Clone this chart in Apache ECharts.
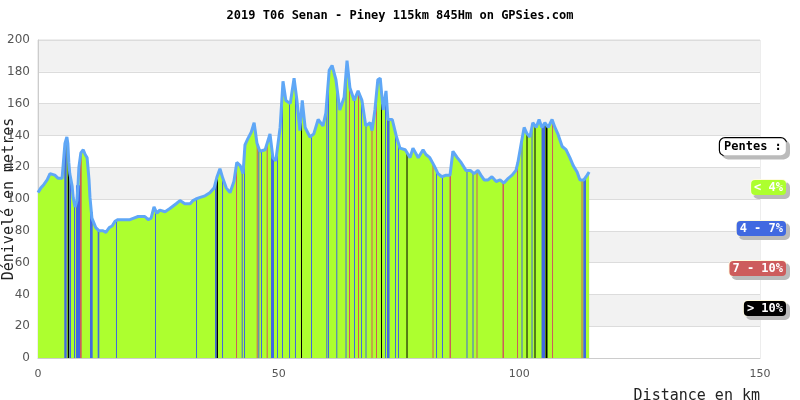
<!DOCTYPE html>
<html><head><meta charset="utf-8">
<script src="https://cdn.jsdelivr.net/npm/echarts@6/dist/echarts.min.js"></script>
<style>html,body{margin:0;padding:0;background:#fff}#c{width:800px;height:400px}</style>
</head><body><div id="c"></div>
<script>
const titleText = '2019 T06 Senan - Piney 115km 845Hm on GPSies.com';
const yAxisTitle = 'Dénivelé en metres';
const xAxisTitle = 'Distance en km';
const legendTitle = 'Pentes :';

const distanceKm = [0.0,0.6,1.2,1.9,2.5,2.9,3.5,4.2,4.6,5.0,5.4,5.6,6.0,6.2,6.4,6.6,7.1,7.3,7.7,8.1,8.3,8.5,8.9,9.4,9.8,10.2,10.6,10.8,11.2,11.6,12.0,12.7,13.5,14.1,14.8,15.4,16.0,16.6,17.5,18.3,19.1,19.9,20.8,21.6,22.2,22.9,23.5,24.1,24.7,25.3,26.4,27.4,28.7,29.5,30.5,31.6,32.2,32.8,33.7,34.7,35.7,36.6,37.2,37.8,38.4,39.1,39.9,40.7,41.3,42.0,42.6,43.0,43.6,44.3,44.9,45.5,46.1,47.2,48.2,48.8,49.4,50.3,50.9,51.5,52.4,53.2,53.8,54.4,54.9,55.5,56.5,57.3,58.2,59.2,59.8,60.5,61.1,61.9,62.7,63.6,64.2,64.8,65.7,66.5,67.3,68.1,69.0,69.4,70.0,70.6,71.1,71.7,72.3,72.7,73.6,74.4,75.2,76.3,77.3,77.9,79.0,80.0,80.6,81.4,82.3,83.1,83.9,84.8,85.6,86.2,87.1,87.9,88.9,89.8,90.6,91.4,92.0,92.7,93.5,94.3,95.2,96.0,96.8,97.7,98.5,99.3,99.7,100.4,101.0,101.6,102.2,102.8,103.5,104.1,104.7,105.3,106.0,106.8,107.4,108.0,108.9,109.7,110.5,111.2,112.0,112.6,113.4,114.1,114.5];
const elevation = [104,107,109,112,116,117,115,113,114,113,112,135,139,135,123,116,108,101,95,99,108,120,129,131,128,126,112,101,88,87,82,80,80,79,82,83,86,87,87,87,87,88,89,89,89,87,88,95,91,93,92,94,97,99,97,97,99,100,101,102,104,107,114,119,113,107,104,111,123,121,116,134,138,142,148,135,130,131,141,126,124,145,174,162,160,176,162,143,162,145,139,141,150,146,154,181,184,175,156,164,187,170,162,168,162,146,148,143,156,175,176,156,168,150,150,140,132,131,126,132,126,131,128,126,121,116,114,115,115,130,126,123,118,118,116,118,115,112,112,114,111,112,110,113,115,118,123,135,145,141,139,148,145,150,145,148,145,150,145,141,133,131,126,121,117,112,112,115,117];

// steep segments: start km, end km, slope class (1: 4-7%, 2: 7-10%, 3: >10%)
const stripeStart = [5.46,6.17,6.50,7.48,7.89,8.73,10.80,12.40,16.20,24.31,32.83,36.77,37.13,38.23,41.14,42.32,42.80,45.44,45.77,46.33,47.51,48.41,49.65,50.69,52.15,53.39,54.64,56.72,59.90,60.25,61.97,63.89,64.61,65.65,66.48,67.11,68.04,69.29,70.22,71.26,72.09,72.51,74.17,74.79,76.56,81.96,82.69,83.93,85.49,89.02,90.27,91.10,96.50,99.52,100.45,101.49,102.53,103.15,104.61,105.44,106.79,112.92,113.29];
const stripeEnd   = [5.96,6.44,6.86,7.69,8.73,9.08,11.36,12.74,16.41,24.52,33.03,37.13,37.40,38.44,41.34,42.53,43.01,45.64,45.91,46.54,47.68,49.03,49.86,50.90,52.36,53.60,54.85,56.93,60.04,60.46,62.18,64.09,64.82,65.86,66.69,67.31,68.25,69.50,70.43,71.47,72.30,73.03,74.38,75.00,76.77,82.17,82.90,84.14,85.80,89.23,90.48,91.31,96.81,99.72,100.66,101.70,102.74,103.36,105.33,105.85,107.00,113.12,113.85];
const stripeClass = [1,3,1,1,1,2,1,1,1,1,1,1,3,1,2,1,1,2,1,1,2,1,1,1,1,1,3,1,1,1,1,1,2,1,2,1,1,2,2,3,1,1,1,1,3,2,1,1,2,1,1,2,2,2,1,3,1,3,1,3,2,2,1];

const slopeLabels = ['< 4%', '4 - 7%', '7 - 10%', '> 10%'];
const slopeColors = ['#adff2f', '#4169e1', '#cd5c5c', '#000000'];
const lineColor = '#5fa7f6';

const profile = distanceKm.map((d, i) => [d, elevation[i]]);
function elevAt(km) {
  for (let i = 1; i < distanceKm.length; i++) {
    if (km <= distanceKm[i]) {
      const t = (km - distanceKm[i-1]) / (distanceKm[i] - distanceKm[i-1]);
      return elevation[i-1] + t * (elevation[i] - elevation[i-1]);
    }
  }
  return elevation[elevation.length - 1];
}
const stripes = stripeStart.map((s, i) => [s, stripeEnd[i], elevAt((s + stripeEnd[i]) / 2), stripeClass[i]]);

const chart = echarts.init(document.getElementById('c'), null, {renderer: 'canvas'});
const mono = "'DejaVu Sans Mono', monospace";

const legendY = [146, 187, 228, 268, 308];
const legendItems = [{
  type: 'text', right: 13, top: legendY[0] - 9, z: 100,
  style: {text: legendTitle, font: 'bold 12px ' + mono, fill: '#000', backgroundColor: '#fff',
    borderColor: '#000', borderWidth: 1.2, borderRadius: 5, padding: [3, 4, 2, 4],
    shadowColor: '#bbb', shadowOffsetX: 3, shadowOffsetY: 3, shadowBlur: 0}
}];
slopeLabels.forEach((lab, i) => {
  legendItems.push({
    type: 'text', right: 13, top: legendY[i + 1] - 8, z: 100,
    style: {text: lab, font: 'bold 12px ' + mono, fill: '#fff', backgroundColor: slopeColors[i],
      borderColor: '#fffbe0', borderWidth: 1, borderRadius: 4, padding: [2, 3, 1, 3],
      shadowColor: '#bbb', shadowOffsetX: 3, shadowOffsetY: 3, shadowBlur: 0}
  });
});

chart.setOption({
  animation: false,
  backgroundColor: '#fff',
  title: {text: titleText, left: 'center', top: 5,
    textStyle: {fontFamily: mono, fontWeight: 'bold', fontSize: 12, color: '#000'}},
  grid: {left: 38, right: 40, top: 40, bottom: 42, containLabel: false, outerBoundsMode: 'none',
    show: true, borderColor: '#dcdcdc', borderWidth: 1, backgroundColor: 'transparent'},
  xAxis: {
    type: 'value', min: 0, max: 150, interval: 50,
    name: xAxisTitle, nameLocation: 'end', nameGap: 0, nameMoveOverlap: false,
    nameTextStyle: {fontFamily: mono, fontSize: 15, color: '#222', align: 'right', verticalAlign: 'top', padding: [31, 0, 0, 0]},
    axisLine: {show: true, lineStyle: {color: '#ccc'}},
    axisTick: {show: false},
    splitLine: {show: false},
    axisLabel: {color: '#555', fontSize: 11, fontFamily: 'DejaVu Sans', margin: 11}
  },
  yAxis: {
    type: 'value', min: 0, max: 200, interval: 20,
    name: yAxisTitle, nameLocation: 'middle', nameGap: 21, nameMoveOverlap: false,
    nameTextStyle: {fontFamily: mono, fontSize: 15, color: '#222'},
    axisLine: {show: true, lineStyle: {color: '#ccc'}},
    axisTick: {show: false},
    splitLine: {show: true, lineStyle: {color: '#dcdcdc'}},
    splitArea: {show: true, areaStyle: {color: ['#ffffff', '#f2f2f2']}},
    axisLabel: {color: '#555', fontSize: 12, fontFamily: 'DejaVu Sans', margin: 8}
  },
  graphic: legendItems,
  series: [
    {type: 'line', data: profile, showSymbol: false, symbol: 'none', z: 2,
      lineStyle: {width: 0}, areaStyle: {color: slopeColors[0], opacity: 1}},
    {type: 'custom', data: stripes, z: 3,
      encode: {x: [0, 1], y: 2},
      renderItem: function (params, api) {
        const p0 = api.coord([api.value(0), api.value(2)]);
        const p1 = api.coord([api.value(1), 0]);
        const w = Math.max(1, p1[0] - p0[0]);
        return {type: 'rect', shape: {x: p0[0], y: p0[1], width: w, height: p1[1] - p0[1]},
          style: {fill: slopeColors[api.value(3)]}};
      }},
    {type: 'line', data: profile, showSymbol: false, symbol: 'none', z: 4,
      lineStyle: {width: 3, color: lineColor}}
  ]
});
</script></body></html>
